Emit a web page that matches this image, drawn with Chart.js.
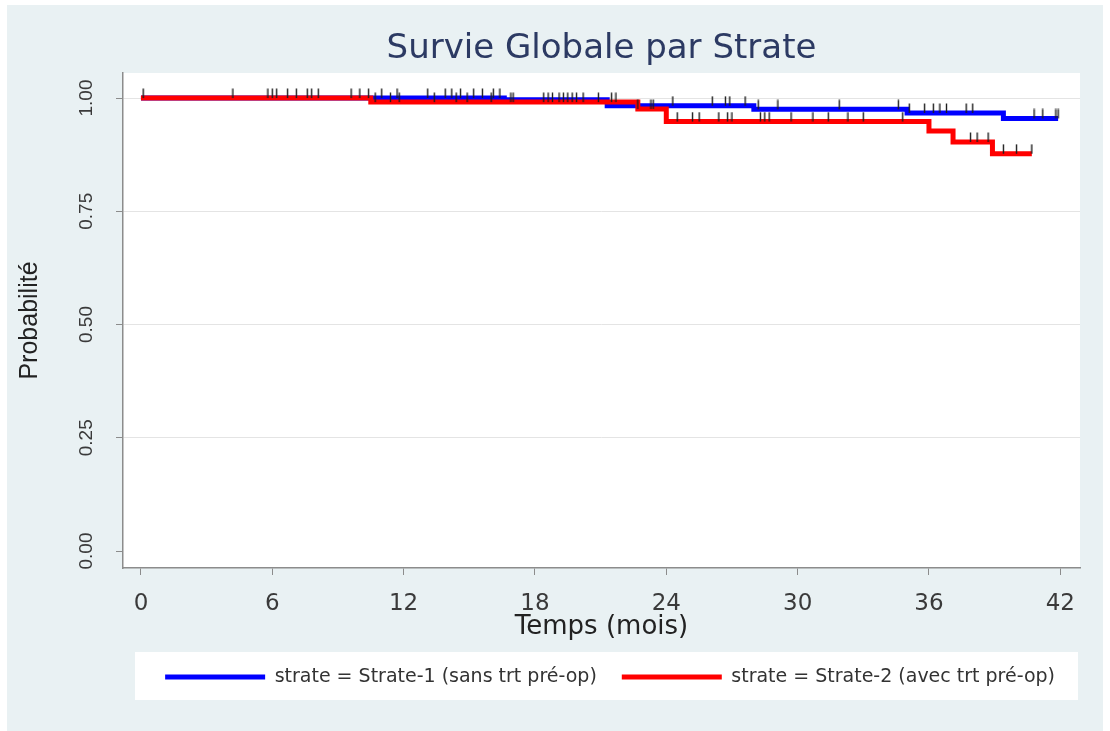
<!DOCTYPE html>
<html><head><meta charset="utf-8">
<script src="https://cdn.jsdelivr.net/npm/chart.js@4.4.0/dist/chart.umd.min.js"></script>
<style>html,body{margin:0;padding:0;background:#fff;}</style>
</head><body>
<canvas id="c" width="1110" height="731"></canvas>
<script>
const chartTitle = 'Survie Globale par Strate';
const xTitle = 'Temps (mois)';
const yTitle = 'Probabilité';
const seriesLabels = ['strate = Strate-1 (sans trt pré-op)', 'strate = Strate-2 (avec trt pré-op)'];
const xTicks = [0, 6, 12, 18, 24, 30, 36, 42];
const yTicks = [0, 0.25, 0.5, 0.75, 1];
const yTickLabels = ['0.00', '0.25', '0.50', '0.75', '1.00'];

// Kaplan-Meier steps, strate 1 (blue)
const times1 = [0, 16.6, 21.3, 28.0, 35.0, 39.4, 41.9];
const surv1  = [1.0, 0.996, 0.983, 0.975, 0.967, 0.955, 0.955];
// Kaplan-Meier steps, strate 2 (red)
const times2 = [0, 10.5, 22.7, 24.0, 36.0, 37.1, 38.9, 40.7];
const surv2  = [1.0, 0.991, 0.976, 0.948, 0.927, 0.903, 0.877, 0.877];

// censoring times
const censor1 = [0.1, 4.2, 6.0, 6.2, 7.1, 7.8, 9.6, 10.4, 11.0, 11.7, 13.1, 13.9, 14.2, 14.6, 15.2, 15.6, 16.1, 16.4,
  24.3, 26.1, 26.7, 26.9, 27.6, 28.2, 29.1, 31.9, 34.6, 35.1, 35.8, 36.2, 36.5, 36.8, 37.7, 38.0, 40.8, 41.2, 41.8, 41.9];
const censor2 = [5.8, 6.7, 7.6, 8.1, 10.0, 10.7, 11.4, 11.8, 13.4, 14.4, 14.9, 16.0, 16.9, 17.0, 18.4, 18.6, 18.8, 19.1, 19.3,
  19.5, 19.7, 19.9, 20.2, 20.9, 21.5, 21.7, 22.7, 23.3, 23.4, 24.5, 25.2, 25.5, 26.4, 26.8, 27.0, 28.3, 28.5, 28.7, 29.7,
  30.7, 31.4, 32.3, 33.0, 34.8, 37.9, 38.2, 38.7, 39.4, 40.0, 40.7];

function survAt(times, surv, t) {
  let s = surv[0];
  for (let i = 0; i < times.length; i++) { if (times[i] <= t) s = surv[i]; }
  return s;
}

const tickImg = document.createElement('canvas');
tickImg.width = 3; tickImg.height = 20;
(function(){ const g = tickImg.getContext('2d'); g.strokeStyle = '#1e1e1e'; g.lineWidth = 1.4;
  g.beginPath(); g.moveTo(1.5, 0.5); g.lineTo(1.5, 10); g.stroke(); })();

const bgPlugin = {
  id: 'bg',
  beforeDraw(chart) {
    const {ctx, chartArea: a} = chart;
    ctx.save();
    ctx.fillStyle = '#ffffff'; ctx.fillRect(0, 0, chart.width, chart.height);
    ctx.fillStyle = '#e9f1f3'; ctx.fillRect(7, 5, 1096, 726);
    ctx.fillStyle = '#ffffff'; ctx.fillRect(a.left, a.top, a.right - a.left, a.bottom - a.top);
    const lg = chart.legend;
    if (lg && lg.legendHitBoxes && lg.legendHitBoxes.length) {
      const hb = lg.legendHitBoxes[0];
      const cy = hb.top + hb.height / 2;
      ctx.fillRect(a.left + 12, cy - 25, a.right - a.left - 14, 48);
    }
    ctx.restore();
  }
};

const font = 'DejaVu Sans';
new Chart(document.getElementById('c'), {
  type: 'line',
  data: {
    datasets: [
      { label: seriesLabels[0], data: times1.map((t, i) => ({x: t, y: surv1[i]})),
        borderColor: '#0000ff', backgroundColor: '#0000ff', borderWidth: 5, stepped: 'before',
        pointRadius: 0, fill: false, order: 3 },
      { label: seriesLabels[1], data: times2.map((t, i) => ({x: t, y: surv2[i]})),
        borderColor: '#ff0000', backgroundColor: '#ff0000', borderWidth: 5, stepped: 'before',
        pointRadius: 0, fill: false, order: 2 },
      { label: 'c1', data: censor1.map(t => ({x: t, y: survAt(times1, surv1, t)})), showLine: false,
        pointStyle: tickImg, pointRadius: 5, order: 0 },
      { label: 'c2', data: censor2.map(t => ({x: t, y: survAt(times2, surv2, t)})), showLine: false,
        pointStyle: tickImg, pointRadius: 5, order: 1 }
    ]
  },
  options: {
    responsive: false, animation: false, devicePixelRatio: 1,
    layout: { padding: { top: 10, left: 0, right: 30, bottom: 34.5 } },
    plugins: {
      tooltip: { enabled: false },
      title: { display: true, fullSize: false, text: chartTitle, color: '#2c3a63',
        font: { family: font, size: 34, weight: 'normal' }, padding: { top: 18.6, bottom: 3.6 } },
      legend: { position: 'bottom', align: 'end',
        labels: { boxWidth: 100, boxHeight: 5, padding: 25, color: '#333',
          font: { family: font, size: 19 },
          sort: (a, b) => a.datasetIndex - b.datasetIndex,
          generateLabels: chart => Chart.defaults.plugins.legend.labels.generateLabels(chart)
            .filter(l => l.datasetIndex < 2)
            .map(l => Object.assign(l, { lineWidth: 0, fillStyle: l.strokeStyle })) } }
    },
    scales: {
      x: { type: 'linear', min: -0.82, max: 42.9,
        afterBuildTicks: s => { s.ticks = xTicks.map(v => ({value: v})); },
        afterFit: s => { s.height = 74.5; },
        border: { display: true, color: '#8c8c8c', width: 1.5 },
        grid: { drawOnChartArea: false, drawTicks: true, tickLength: 7, tickColor: '#8c8c8c' },
        ticks: { font: { family: font, size: 23 }, color: '#3a3a3a', padding: 15, maxRotation: 0, autoSkip: false },
        title: { display: true, text: xTitle, color: '#222', font: { family: font, size: 26 }, padding: { top: 0, bottom: 0 } }
      },
      y: { type: 'linear', min: -0.0375, max: 1.0552,
        afterBuildTicks: s => { s.ticks = yTicks.map(v => ({value: v})); },
        afterFit: s => { s.width = 123; },
        border: { display: true, color: '#8c8c8c', width: 1.5 },
        grid: { color: c => (c.tick && c.tick.value === 0) ? 'rgba(0,0,0,0)' : '#e4e4e4',
          tickColor: '#8c8c8c', tickLength: 7, lineWidth: 1 },
        ticks: { minRotation: 90, maxRotation: 90, crossAlign: 'center', padding: 10.5, autoSkip: false,
          font: { family: 'Liberation Sans', size: 19 }, color: '#3a3a3a',
          callback: v => yTickLabels[yTicks.indexOf(v)] },
        title: { display: true, text: yTitle, color: '#222', font: { family: 'Liberation Sans', size: 25 },
          padding: { top: 15, bottom: 0 } }
      }
    }
  },
  plugins: [bgPlugin]
});
</script>
</body></html>
